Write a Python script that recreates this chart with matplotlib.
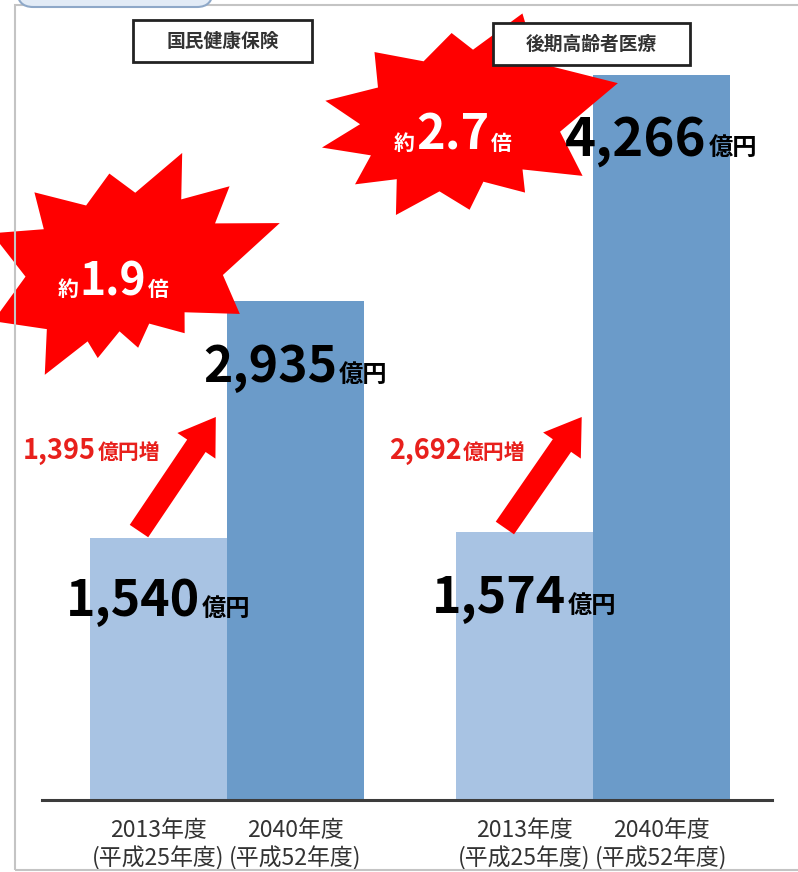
import numpy as np
import matplotlib
matplotlib.use("Agg")
import matplotlib.pyplot as plt
from matplotlib.patches import Polygon, Rectangle, FancyBboxPatch
from matplotlib.offsetbox import TextArea, HPacker, AnnotationBbox

plt.rcParams['font.family'] = ['Noto Sans CJK JP', 'DejaVu Sans']

# chart data
groups = ['国民健康保険', '後期高齢者医療']
year_labels = ['2013年度\n(平成25年度)', '2040年度\n(平成52年度)']
values_2013 = [1540, 1574]
values_2040 = [2935, 4266]
increase = [1395, 2692]
ratio_text = ['1.9', '2.7']

# colours
light_blue = '#a8c3e3'
dark_blue = '#6b9bc9'
red = '#ff0000'
red_text = '#e8201c'

W, H = 798, 872
fig = plt.figure(figsize=(W / 100, H / 100), dpi=100)


def fx(x):
    return x / W


def fy(y):
    return 1 - y / H


# outer frame and the tab at the top left
fig.add_artist(Rectangle((fx(15), fy(870)), fx(800) - fx(15), fy(5) - fy(870),
                         transform=fig.transFigure, fill=False, edgecolor='#c4c4c4', lw=1.5))
fig.add_artist(FancyBboxPatch((fx(17), fy(7)), fx(213) - fx(17), 0.04,
                              boxstyle='round,pad=0,rounding_size=0.02',
                              transform=fig.transFigure, facecolor='#e2ebf6',
                              edgecolor='#8ea8c8', lw=1.5))

# main axes: baseline at y=800px, 0.17 px per 億円
ax = fig.add_axes([fx(42), fy(800), fx(772) - fx(42), (800 - 9.5) / H])
ax.set_xlim(-0.505, 1.49)
ax.set_ylim(0, 4650)
ax.patch.set_alpha(0)

group_x = np.arange(len(groups))
bar_w = 0.374
ax.bar(group_x - bar_w / 2, values_2013, width=bar_w, color=light_blue, zorder=2)
ax.bar(group_x + bar_w / 2, values_2040, width=bar_w, color=dark_blue, zorder=2)

for s in ['top', 'right', 'left']:
    ax.spines[s].set_visible(False)
ax.spines['bottom'].set_color('#3c3c3c')
ax.spines['bottom'].set_linewidth(2.2)
ax.set_yticks([])

tick_pos = np.concatenate([group_x - bar_w / 2, group_x + bar_w / 2])
tick_lab = [year_labels[0]] * len(groups) + [year_labels[1]] * len(groups)
ax.set_xticks(tick_pos, tick_lab, fontsize=16.5, color='#333333', linespacing=1.2)
ax.tick_params(axis='x', length=0, pad=14)


def mixed_label(parts, xy, xycoords='data', z=6):
    boxes = [TextArea(s, textprops=dict(fontsize=fs, color=c, fontweight='bold'))
             for s, fs, c in parts]
    pack = HPacker(children=boxes, align='baseline', pad=0, sep=1)
    ab = AnnotationBbox(pack, xy, xycoords=xycoords, frameon=False,
                        box_alignment=(0.5, 0.5), pad=0, zorder=z,
                        annotation_clip=False)
    ax.add_artist(ab)


# value labels on the bars
label_y_2013 = [1165, 1188]
label_y_2040 = [2547, 3882]
num_size_2040 = [36, 38]
for i in range(len(groups)):
    mixed_label([(f'{values_2013[i]:,}', 36, 'black'), ('億円', 17.5, 'black')],
                (group_x[i] - bar_w / 2, label_y_2013[i]))
    mixed_label([(f'{values_2040[i]:,}', num_size_2040[i], 'black'), ('億円', 17.5, 'black')],
                (group_x[i] + bar_w / 2, label_y_2040[i]))

# increase arrows and labels
arrow_dx = (-0.24, -0.03)
arrow_y0 = [1582, 1600]
arrow_y1 = [2253, 2253]
for i in range(len(groups)):
    ax.annotate('', xy=(group_x[i] + arrow_dx[1], arrow_y1[i]),
                xytext=(group_x[i] + arrow_dx[0], arrow_y0[i]),
                arrowprops=dict(arrowstyle='simple,head_length=2.5,head_width=3.3,tail_width=1.6',
                                color=red, mutation_scale=10, shrinkA=0, shrinkB=0, lw=0),
                zorder=4)
    mixed_label([(f'{increase[i]:,}', 19.5, red_text), ('億円増', 15, red_text)],
                (group_x[i] - 0.37, 2055))


# starbursts (shapes in image pixels)
def burst(cx, cy, tips, ratio=0.7):
    tips = sorted([(a % 360, r) for a, r in tips])
    pts = []
    n = len(tips)
    for k in range(n):
        a1, r1 = tips[k]
        a2, r2 = tips[(k + 1) % n]
        if a2 <= a1:
            a2 += 360
        am = np.radians((a1 + a2) / 2)
        rm = ratio * (r1 + r2) / 2
        pts.append((fx(cx + r1 * np.cos(np.radians(a1))), fy(cy - r1 * np.sin(np.radians(a1)))))
        pts.append((fx(cx + rm * np.cos(am)), fy(cy - rm * np.sin(am))))
    return Polygon(pts, closed=True, transform=fig.transFigure, facecolor=red,
                   edgecolor='none', clip_on=False, zorder=3)


star1_tips = [(18, 168), (39, 141), (63, 137), (96, 102), (136, 119), (162, 135),
              (-160, 135), (-127, 125), (-105, 86), (-76, 75), (-42, 87), (-18, 126)]
star2_tips = [(14, 173), (57, 133), (89, 92), (136, 105), (169, 127), (190, 130),
              (212, 112), (239, 105), (283, 87), (318, 101), (339, 142)]
star_centers = [(120, 275), (450, 125)]
ax.add_patch(burst(*star_centers[0], star1_tips))
ax.add_patch(burst(*star_centers[1], star2_tips))

star_text_pos = [(113, 283), (453, 135)]
star_num_size = [32, 35]
for i in range(len(groups)):
    mixed_label([('約', 15, 'white'), (ratio_text[i], star_num_size[i], 'white'), ('倍', 15, 'white')],
                (fx(star_text_pos[i][0]), fy(star_text_pos[i][1])), xycoords='figure fraction')

# group title boxes
title_boxes = [(133, 20, 312, 62), (493, 23, 690, 65)]
for name, (x0, y0, x1, y1) in zip(groups, title_boxes):
    fig.add_artist(Rectangle((fx(x0), fy(y1)), fx(x1) - fx(x0), fy(y0) - fy(y1),
                             transform=fig.transFigure, facecolor='white',
                             edgecolor='#222222', lw=2, zorder=5))
    fig.text(fx((x0 + x1) / 2), fy((y0 + y1) / 2), name, ha='center', va='center',
             fontsize=13.5, fontweight='bold', color='#333333', zorder=6)

fig.savefig('out.png', dpi=100)
